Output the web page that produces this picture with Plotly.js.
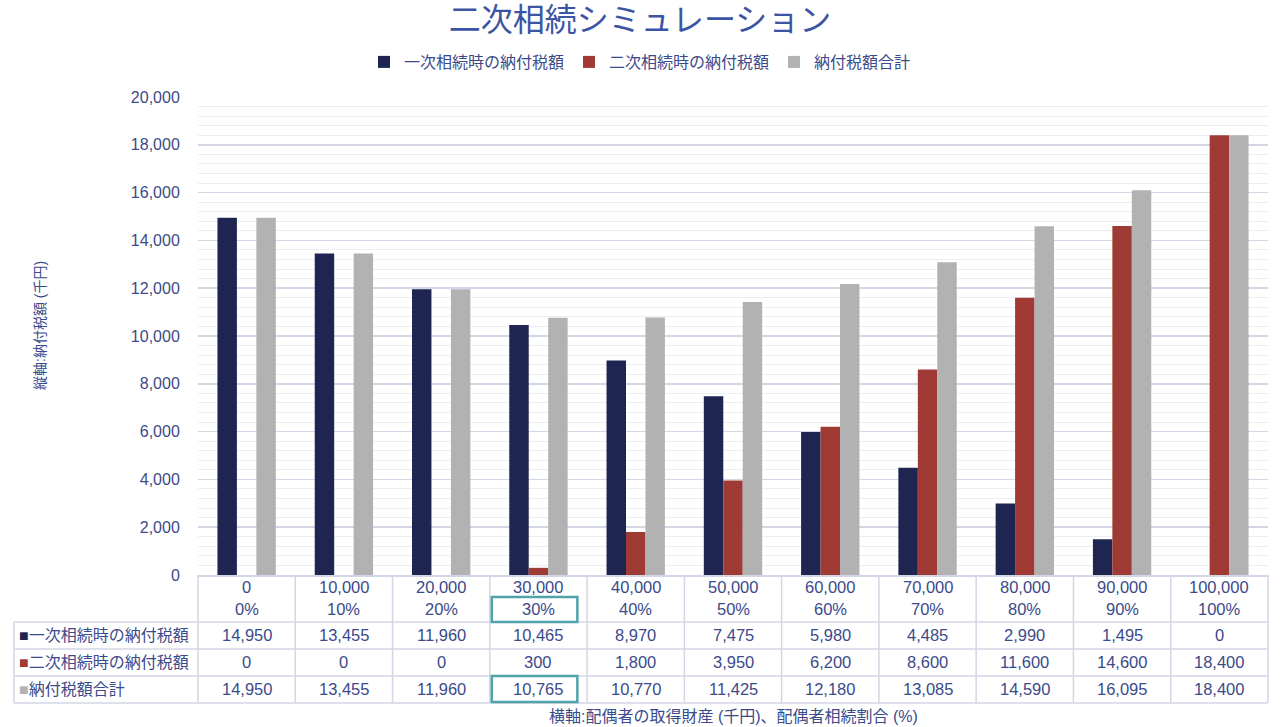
<!DOCTYPE html>
<html><head><meta charset="utf-8">
<script src="https://cdn.plot.ly/plotly-3.0.1.min.js"></script>
<style>html,body{margin:0;padding:0;background:#fff;}#chart{width:1280px;height:727px;}</style>
</head><body><div id="chart"></div>
<script>
const assets = ['0','10,000','20,000','30,000','40,000','50,000','60,000','70,000','80,000','90,000','100,000'];
const ratios = ['0%','10%','20%','30%','40%','50%','60%','70%','80%','90%','100%'];
const seriesNames = ['一次相続時の納付税額','二次相続時の納付税額','納付税額合計'];
const firstTax = [14950,13455,11960,10465,8970,7475,5980,4485,2990,1495,0];
const secondTax = [0,0,0,300,1800,3950,6200,8600,11600,14600,18400];
const totalTax = [14950,13455,11960,10765,10770,11425,12180,13085,14590,16095,18400];
const colors = ['#1d2550','#9f3a34','#b2b2b2'];
const allSeries = [firstTax, secondTax, totalTax];

const W = 1280, H = 727;
const L = 198, R = 12, T = 97, B = 152;
const plotW = W - L - R, plotH = H - T - B;
const FONT = 'Liberation Sans, Arial, Noto Sans CJK JP, sans-serif';
const TXT = '#3b4a8a';
const LINE = '#d3d7e5';
const py = p => -(p - (H - B)) / plotH;   // pixel y -> paper y
const px = p => (p - L) / plotW;          // pixel x -> paper x

const idx = assets.map((_, i) => i);
const traces = allSeries.map((s, k) => ({
  type: 'bar', x: idx, y: s, name: seriesNames[k],
  marker: {color: colors[k]}, hoverinfo: 'skip'
}));

const annotations = [];
const shapes = [];
const fmt = v => v.toLocaleString('en-US');
const NUMF = {size:16.5, color:TXT, family:FONT};
// header rows
idx.forEach(i => {
  annotations.push({xref:'x', yref:'paper', x:i, y:py(587), text:assets[i], showarrow:false, font:NUMF, yanchor:'middle'});
  annotations.push({xref:'x', yref:'paper', x:i, y:py(609), text:ratios[i], showarrow:false, font:NUMF, yanchor:'middle'});
});
const rowY = [635, 662, 689];
allSeries.forEach((s, k) => {
  annotations.push({xref:'paper', yref:'paper', x:px(17), y:py(rowY[k]), xanchor:'left', yanchor:'middle', showarrow:false,
    text:'<span style="color:'+colors[k]+';font-size:16px">■</span>' + seriesNames[k], font:{size:16, color:TXT, family:FONT}});
  s.forEach((v, i) => {
    annotations.push({xref:'x', yref:'paper', x:i, y:py(rowY[k]), text:fmt(v), showarrow:false, font:NUMF, yanchor:'middle'});
  });
});
// axis titles
annotations.push({xref:'paper', yref:'paper', x:px(30), y:py(326), text:'縦軸:納付税額 (千円)', textangle:-90, showarrow:false, font:{size:14, color:TXT, family:FONT}});
annotations.push({xref:'paper', yref:'paper', x:0.5, y:py(716), text:'横軸:配偶者の取得財産 (千円)、配偶者相続割合 (%)', showarrow:false, font:{size:16, color:TXT, family:FONT}, yanchor:'middle'});

// table grid lines
[622, 649, 676, 703].forEach(yp => {
  shapes.push({type:'line', xref:'paper', yref:'paper', x0:px(14), x1:1, y0:py(yp), y1:py(yp), line:{color:LINE, width:1.5}});
});
for (let i = 0; i <= assets.length; i++) {
  shapes.push({type:'line', xref:'paper', yref:'paper', x0:i/assets.length, x1:i/assets.length, y0:0, y1:py(703), line:{color:LINE, width:1.5}});
}
shapes.push({type:'line', xref:'paper', yref:'paper', x0:px(14), x1:px(14), y0:py(622), y1:py(703), line:{color:LINE, width:1.5}});
// highlight boxes
const hl = 3;
shapes.push({type:'rect', xref:'paper', yref:'paper', x0:(hl+0.02)/assets.length, x1:(hl+0.9)/assets.length, y0:py(597), y1:py(622), line:{color:'#4fa3a9', width:2.5}});
shapes.push({type:'rect', xref:'paper', yref:'paper', x0:(hl+0.02)/assets.length, x1:(hl+0.9)/assets.length, y0:py(676), y1:py(702), line:{color:'#4fa3a9', width:2.5}});

const layout = {
  width: W, height: H,
  margin: {l:L, r:R, t:T, b:B, pad:0},
  paper_bgcolor:'#fff', plot_bgcolor:'#fff',
  font: {family: FONT, color: TXT},
  title: {text:'二次相続シミュレーション', font:{size:32, color:'#3c54a4', family:FONT}, x:0.5, xref:'container', y:1-20/H, yref:'container', yanchor:'middle'},
  barmode:'group', bargap:0.4, bargroupgap:0,
  showlegend:true,
  legend:{orientation:'h', x:0.5, xref:'container', xanchor:'center', y:1-62/H, yref:'container', yanchor:'middle', font:{size:16, color:TXT, family:FONT}, itemclick:false, itemwidth:30, tracegroupgap:0},
  xaxis:{type:'linear', range:[-0.5, assets.length-0.5], showticklabels:false, showgrid:false, zeroline:false, showline:true, linecolor:LINE, linewidth:1.5, fixedrange:true},
  yaxis:{range:[0,20000], dtick:2000, tickformat:',d', showgrid:true, gridcolor:LINE, gridwidth:1.5, zeroline:false,
    minor:{dtick:400, showgrid:true, gridcolor:'#eceef4', gridwidth:1},
    ticks:'outside', ticklen:14, tickcolor:'rgba(0,0,0,0)', tickfont:{size:16, color:TXT, family:FONT}, fixedrange:true},
  annotations, shapes
};
Plotly.newPlot('chart', traces, layout, {displayModeBar:false, staticPlot:true});
</script></body></html>
